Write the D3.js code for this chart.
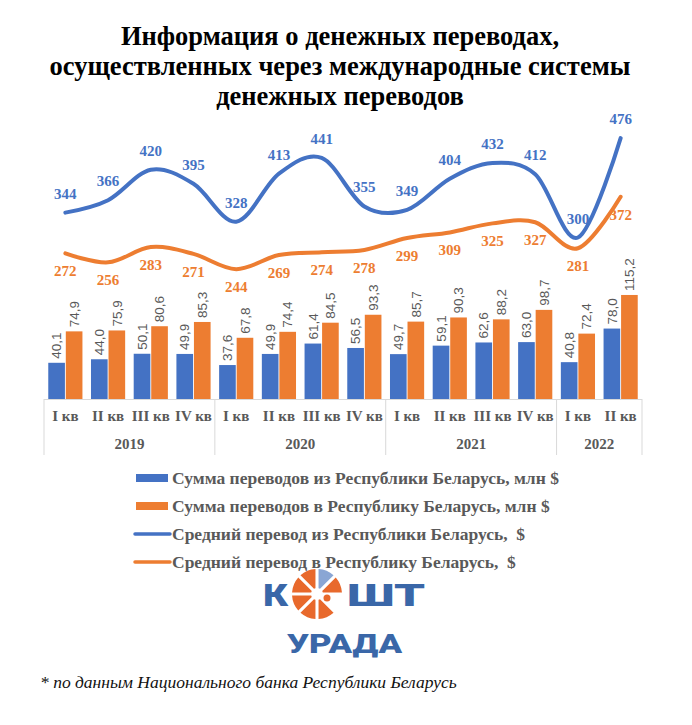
<!DOCTYPE html>
<html>
<head>
<meta charset="utf-8">
<script src="https://cdn.jsdelivr.net/npm/d3@7"></script>
<style>body{margin:0;background:#fff}</style>
</head>
<body>
<script>
// data
const quarters = ["I кв","II кв","III кв","IV кв","I кв","II кв","III кв","IV кв","I кв","II кв","III кв","IV кв","I кв","II кв"];
const years = ["2019","2020","2021","2022"];
const yearSpans = [4,4,4,2];
const sumFrom = [40.1,44.0,50.1,49.9,37.6,49.9,61.4,56.5,49.7,59.1,62.6,63.0,40.8,78.0];
const sumTo   = [74.9,75.9,80.6,85.3,67.8,74.4,84.5,93.3,85.7,90.3,88.2,98.7,72.4,115.2];
const avgFrom = [344,366,420,395,328,413,441,355,349,404,432,412,300,476];
const avgTo   = [272,256,283,271,244,269,274,278,299,309,325,327,281,372];
const legendNames = [
  "Сумма переводов из Республики Беларусь, млн $",
  "Сумма переводов в Республику Беларусь, млн $",
  "Средний перевод из Республики Беларусь,  $",
  "Средний перевод в Республику Беларусь,  $"
];

var width = 692, height = 725;
var blue = "#4472C4", orange = "#ED7D31", gray = "#595959";
var serif = "'Liberation Serif','Times New Roman',serif";

var svg = d3.select("body").append("svg")
    .attr("width", width).attr("height", height)
    .style("background", "#fff");

// title
var title = ["Информация о денежных переводах,",
             "осуществленных через международные системы",
             "денежных переводов"];
svg.append("g").selectAll("text").data(title).enter().append("text")
    .attr("x", 340).attr("y", function(d, i){ return 45 + i * 30; })
    .attr("text-anchor", "middle")
    .style("font-family", serif).style("font-weight", "bold").style("font-size", "26.5px")
    .style("fill", "#000")
    .text(function(d){ return d; });

var x0 = d3.scaleBand().domain(d3.range(quarters.length))
    .range([44, 642]).paddingInner(0.2).paddingOuter(0.1);
var x1 = d3.scaleBand().domain(["from", "to"])
    .range([0, x0.bandwidth()]).paddingInner(0.05);
var yBar = d3.scaleLinear().domain([0, 100]).range([399, 308.7]);
var yLine = d3.scaleLinear().domain([0, 500]).range([407, 124.5]);
var cx = function(i){ return x0(i) + x0.bandwidth() / 2; };
var fmt = d3.formatLocale({decimal: ",", thousands: " ", grouping: [3], currency: ["", ""]}).format(".1f");

// axis line and year separators
var step = x0.step(), left = 44;
svg.append("line").attr("x1", 44).attr("x2", 642).attr("y1", 399.5).attr("y2", 399.5)
    .style("stroke", "#d9d9d9");
var bounds = [0];
yearSpans.forEach(function(s){ bounds.push(bounds[bounds.length - 1] + s); });
svg.append("g").selectAll("line").data(bounds).enter().append("line")
    .attr("x1", function(d){ return left + d * step; })
    .attr("x2", function(d){ return left + d * step; })
    .attr("y1", 399).attr("y2", 455)
    .style("stroke", "#d9d9d9");

// bars
var rows = quarters.map(function(q, i){ return {i: i, from: sumFrom[i], to: sumTo[i]}; });
var groups = svg.append("g").selectAll("g").data(rows).enter().append("g")
    .attr("transform", function(d){ return "translate(" + x0(d.i) + ",0)"; });
var barData = function(d){ return [{k: "from", v: d.from}, {k: "to", v: d.to}]; };
groups.selectAll("rect").data(barData).enter().append("rect")
    .attr("x", function(d){ return x1(d.k); })
    .attr("width", x1.bandwidth())
    .attr("y", function(d){ return yBar(d.v); })
    .attr("height", function(d){ return yBar(0) - yBar(d.v); })
    .style("fill", function(d){ return d.k == "from" ? blue : orange; });
groups.selectAll("text").data(barData).enter().append("text")
    .attr("transform", function(d){
      return "translate(" + (x1(d.k) + x1.bandwidth() / 2) + "," + (yBar(d.v) - 4) + ") rotate(-90)";
    })
    .attr("dy", "0.35em")
    .style("font-family", "'Liberation Sans',Arial,sans-serif").style("font-size", "13.5px")
    .style("fill", gray)
    .text(function(d){ return fmt(d.v); });

// category and year labels
svg.append("g").selectAll("text").data(quarters).enter().append("text")
    .attr("x", function(d, i){ return cx(i); }).attr("y", 421)
    .attr("text-anchor", "middle")
    .style("font-family", serif).style("font-weight", "bold").style("font-size", "15px")
    .style("fill", gray)
    .text(function(d){ return d; });
svg.append("g").selectAll("text").data(years).enter().append("text")
    .attr("x", function(d, i){ return left + (bounds[i] + bounds[i + 1]) / 2 * step; })
    .attr("y", 449)
    .attr("text-anchor", "middle")
    .style("font-family", serif).style("font-weight", "bold").style("font-size", "15px")
    .style("fill", gray)
    .text(function(d){ return d; });

// lines
var line = d3.line()
    .x(function(d, i){ return cx(i); })
    .y(function(d){ return yLine(d); })
    .curve(d3.curveCatmullRom.alpha(0));
svg.append("path").datum(avgTo).attr("d", line)
    .style("fill", "none").style("stroke", orange).style("stroke-width", 4).style("stroke-linecap", "round");
svg.append("path").datum(avgFrom).attr("d", line)
    .style("fill", "none").style("stroke", blue).style("stroke-width", 4).style("stroke-linecap", "round");

svg.append("g").selectAll("text").data(avgFrom).enter().append("text")
    .attr("x", function(d, i){ return cx(i); })
    .attr("y", function(d){ return yLine(d) - 14; })
    .attr("text-anchor", "middle")
    .style("font-family", serif).style("font-weight", "bold").style("font-size", "15px")
    .style("fill", blue)
    .text(function(d){ return d; });
svg.append("g").selectAll("text").data(avgTo).enter().append("text")
    .attr("x", function(d, i){ return cx(i); })
    .attr("y", function(d){ return yLine(d) + 23; })
    .attr("text-anchor", "middle")
    .style("font-family", serif).style("font-weight", "bold").style("font-size", "15px")
    .style("fill", orange)
    .text(function(d){ return d; });

// legend
var legendColors = [blue, orange, blue, orange];
var leg = svg.append("g").selectAll("g").data(legendNames).enter().append("g")
    .attr("transform", function(d, i){ return "translate(0," + (478 + i * 28) + ")"; });
leg.filter(function(d, i){ return i < 2; }).append("rect")
    .attr("x", 136).attr("y", -4).attr("width", 32).attr("height", 8)
    .style("fill", function(d){ return legendColors[legendNames.indexOf(d)]; });
leg.filter(function(d, i){ return i >= 2; }).append("line")
    .attr("x1", 135).attr("x2", 170).attr("y1", 0).attr("y2", 0)
    .style("stroke", function(d){ return legendColors[legendNames.indexOf(d)]; })
    .style("stroke-width", 3.5).style("stroke-linecap", "round");
leg.append("text")
    .attr("x", 172).attr("dy", "0.35em")
    .style("font-family", serif).style("font-weight", "bold").style("font-size", "17.5px")
    .style("fill", gray).style("white-space", "pre")
    .text(function(d){ return d; });

// logo
var logoBlue = "#3a67a8", logoOrange = "#e8692c";
var logo = svg.append("g");
logo.append("text").attr("x", 263).attr("y", 606).attr("textLength", 25).attr("lengthAdjust", "spacingAndGlyphs")
    .style("font-family", "Roboto,'DejaVu Sans',sans-serif").style("font-weight", "900").style("font-size", "32px")
    .style("fill", logoBlue).text("К");
logo.append("text").attr("x", 347).attr("y", 606).attr("textLength", 78).attr("lengthAdjust", "spacingAndGlyphs")
    .style("font-family", "Roboto,'DejaVu Sans',sans-serif").style("font-weight", "900").style("font-size", "32px")
    .style("fill", logoBlue).text("ШТ");
logo.append("text").attr("x", 287).attr("y", 653).attr("textLength", 115).attr("lengthAdjust", "spacingAndGlyphs")
    .style("font-family", "Roboto,'DejaVu Sans',sans-serif").style("font-weight", "900").style("font-size", "25px")
    .style("fill", logoBlue).text("УРАДА");
var slices = d3.range(8).filter(function(i){ return i != 2; });
var arc = d3.arc().innerRadius(6).outerRadius(25).padAngle(0.12);
logo.append("g").attr("transform", "translate(317,594)")
    .selectAll("path").data(slices).enter().append("path")
    .attr("d", function(i){ return arc({startAngle: i * Math.PI / 4, endAngle: (i + 1) * Math.PI / 4}); })
    .style("fill", function(i){ return i == 0 ? "#8aa6d4" : logoOrange; });
logo.append("circle").attr("cx", 327).attr("cy", 598).attr("r", 3.5).style("fill", logoOrange);

// footnote
svg.append("text").attr("x", 40).attr("y", 688)
    .style("font-family", serif).style("font-style", "italic").style("font-size", "17.5px")
    .style("fill", "#111")
    .text("* по данным Национального банка Республики Беларусь");
</script>
</body>
</html>
